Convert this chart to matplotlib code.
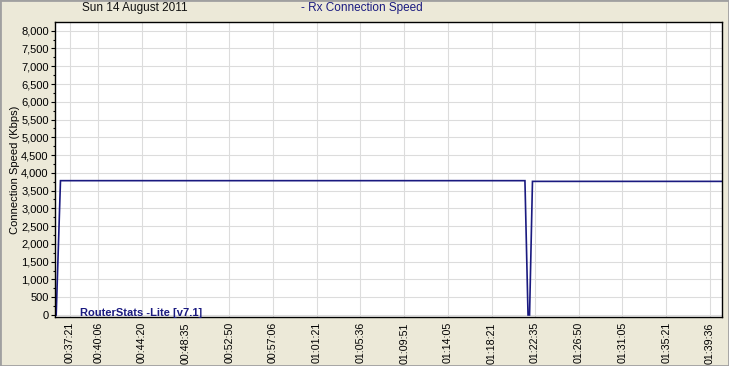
import matplotlib
matplotlib.use("Agg")
import matplotlib.pyplot as plt
from matplotlib.ticker import FuncFormatter, MultipleLocator, FixedLocator
from matplotlib.patches import Rectangle

# ---- data (seconds since midnight, Kbps) ----
tick_labels = ["00:37:21", "00:40:06", "00:44:20", "00:48:35", "00:52:50",
               "00:57:06", "01:01:21", "01:05:36", "01:09:51", "01:14:05",
               "01:18:21", "01:22:35", "01:26:50", "01:31:05", "01:35:21",
               "01:39:36"]
time_s = [2160, 2185, 4896, 4914, 4923, 4940, 6048]
speed_kbps = [0, 3780, 3780, 0, 0, 3760, 3760]

def to_sec(lbl):
    h, m, s = (int(v) for v in lbl.split(":"))
    return h * 3600 + m * 60 + s

tick_pos = [to_sec(l) for l in tick_labels]

BG = "#ECE9D8"
NAVY = "#1a1a80"

plt.rcParams['font.family'] = ['Liberation Sans', 'DejaVu Sans']
fig = plt.figure(figsize=(7.29, 3.66), dpi=100, facecolor=BG)
ax = fig.add_axes([55 / 729, 1 - 317.3 / 366, (722.3 - 55) / 729, (317.3 - 22) / 366])
ax.set_facecolor("white")

ax.plot(time_s, speed_kbps, color=NAVY, lw=1.2, solid_joinstyle="miter")

ax.set_xlim(2153, 6048)
ax.set_ylim(-65, 8245)

ax.xaxis.set_major_locator(FixedLocator(tick_pos))
ax.set_xticklabels(tick_labels, rotation=90, fontsize=7.7)
ax.yaxis.set_major_locator(MultipleLocator(500))
ax.yaxis.set_minor_locator(MultipleLocator(250))
ax.yaxis.set_major_formatter(FuncFormatter(lambda v, p: f"{int(v):,}"))
ax.tick_params(axis="y", labelsize=8, length=3, width=0.8, pad=1.5, colors="black")
ax.tick_params(axis="y", which="minor", length=1.5, width=0.8)
ax.tick_params(axis="x", length=0, pad=3.5)

ax.grid(True, color="#dcdcdc", lw=0.8)
ax.set_axisbelow(True)
for sp in ax.spines.values():
    sp.set_color("black")
    sp.set_linewidth(1.0)

ax.set_ylabel("Connection Speed (Kbps)", fontsize=8, labelpad=0.5)

fig.text(135 / 729, 1 - 7.5 / 366, "Sun 14 August 2011", fontsize=8.5, ha="center", va="center", color="#111111")
fig.text(362 / 729, 1 - 7.5 / 366, "- Rx Connection Speed", fontsize=8.5, ha="center", va="center", color=NAVY)
ax.text(80 / 729, 1 - 313 / 366, "RouterStats -Lite [v7.1]", transform=fig.transFigure,
        fontsize=8, fontweight="bold", ha="left", va="center", color=NAVY)

fig.patches.append(Rectangle((0, 0), 1, 1, transform=fig.transFigure, fill=False,
                             edgecolor="#a0a0a0", lw=2, zorder=10))

fig.savefig("out.png", dpi=100, facecolor=BG)
